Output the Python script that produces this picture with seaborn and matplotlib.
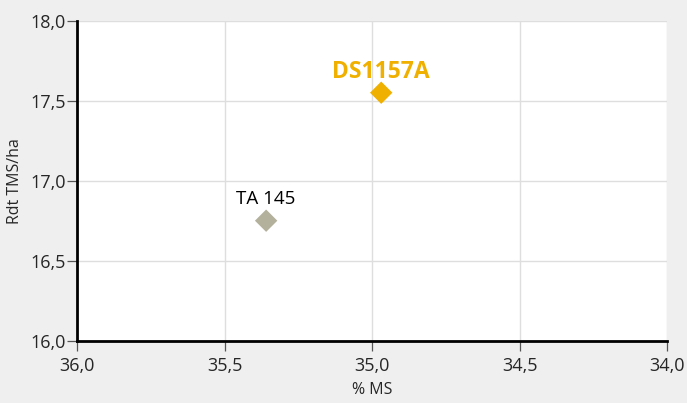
import matplotlib
matplotlib.use('Agg')
import matplotlib.pyplot as plt
import seaborn as sns
import pandas as pd

# Donnees
varietes = ['TA 145', 'DS1157A']
ms = [35.36, 34.97]
rdt = [16.75, 17.55]
couleurs = ['#b3b19c', '#f0b000']

x_ticks = [36.0, 35.5, 35.0, 34.5, 34.0]
y_ticks = [16.0, 16.5, 17.0, 17.5, 18.0]

df = pd.DataFrame({'variete': varietes, 'ms': ms, 'rdt': rdt})

sns.set_style('whitegrid', {'xtick.bottom': True, 'ytick.left': True})
plt.rcParams['font.family'] = ['Open Sans', 'DejaVu Sans']

fig = plt.figure(figsize=(6.87, 4.03), dpi=100)
fig.patch.set_facecolor('#efefef')
ax = fig.add_axes([0.1125, 0.1546, 0.859, 0.794])
ax.set_facecolor('white')

sns.scatterplot(data=df, x='ms', y='rdt', hue='variete', palette=couleurs,
                marker='D', s=130, edgecolor='none', legend=False, ax=ax,
                zorder=3)

ax.set_xlim(36.0, 34.0)
ax.set_ylim(16.0, 18.0)
ax.set_xticks(x_ticks)
ax.set_yticks(y_ticks)
ax.set_xticklabels([f'{v:.1f}'.replace('.', ',') for v in x_ticks])
ax.set_yticklabels([f'{v:.1f}'.replace('.', ',') for v in y_ticks])
ax.tick_params(axis='both', labelsize=13, length=7.5, width=0.9, color='#555555',
               direction='out', pad=1, bottom=True, left=True)
ax.tick_params(axis='x', pad=4)

ax.grid(True, color='#dedede', linewidth=1)
for s in ['top', 'right']:
    ax.spines[s].set_visible(False)
for s in ['left', 'bottom']:
    ax.spines[s].set_color('black')
    ax.spines[s].set_linewidth(2)

ax.set_xlabel('% MS', fontsize=11.5, labelpad=5)
ax.set_ylabel('Rdt TMS/ha', fontsize=11.5, labelpad=5)

# Etiquettes des points
ax.annotate(varietes[0], (ms[0], rdt[0]), xytext=(0, 9), textcoords='offset points',
            ha='center', va='bottom', fontsize=13.5, color='black')
ax.annotate(varietes[1], (ms[1], rdt[1]), xytext=(0, 6), textcoords='offset points',
            ha='center', va='bottom', fontsize=16.5, fontweight='bold', color=couleurs[1])

fig.savefig('out.png', dpi=100, facecolor=fig.get_facecolor())
